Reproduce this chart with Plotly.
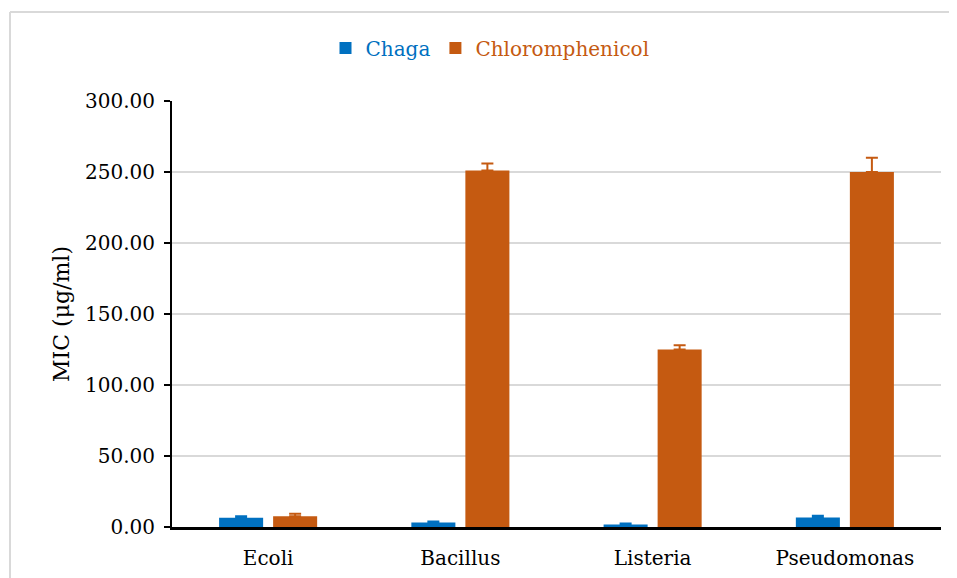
import plotly.graph_objects as go

categories = ["Ecoli", "Bacillus", "Listeria", "Pseudomonas"]
chaga = [6.5, 3.2, 1.8, 6.7]
chaga_err = [1.0, 0.7, 0.6, 1.2]
chloro = [7.5, 251.0, 125.0, 250.0]
chloro_err = [1.8, 5.0, 3.0, 10.0]
y_ticks = [0, 50, 100, 150, 200, 250, 300]
y_tick_labels = ["0.00", "50.00", "100.00", "150.00", "200.00", "250.00", "300.00"]

BLUE = "#0070C0"
ORANGE = "#C55A11"
FONT = "DejaVu Serif"

fig = go.Figure()
fig.add_trace(go.Bar(
    x=categories, y=chaga, name=f'<span style="color:{BLUE}">Chaga</span>',
    marker=dict(color=BLUE, line=dict(width=0)),
    error_y=dict(type="data", symmetric=False, array=chaga_err,
                 arrayminus=[0] * len(chaga_err), color=BLUE, thickness=2, width=6),
))
fig.add_trace(go.Bar(
    x=categories, y=chloro, name=f'<span style="color:{ORANGE}">Chloromphenicol</span>',
    marker=dict(color=ORANGE, line=dict(width=0)),
    error_y=dict(type="data", symmetric=False, array=chloro_err,
                 arrayminus=[0] * len(chloro_err), color=ORANGE, thickness=2, width=6),
))

# page body has an 8px margin; figure is placed at (8, 8)
OFF = 8
L, R, T, B = 172 - OFF, 16, 101 - OFF, 51
W, H = 957 - OFF, 578 - OFF
pw, ph = W - L - R, H - T - B
bx = (10 - OFF - L) / pw
by = 1 + (T - (12 - OFF)) / ph

fig.update_layout(
    width=W, height=H,
    margin=dict(l=L, r=R, t=T, b=B, pad=0, autoexpand=False),
    paper_bgcolor="white", plot_bgcolor="white",
    font=dict(family=FONT, size=20, color="black"),
    barmode="group", bargap=0.438, bargroupgap=0.185,
    showlegend=True,
    legend=dict(orientation="h", xref="container", x=(490 - OFF) / W, xanchor="center",
                yref="container", y=1 - (48 - OFF) / H, yanchor="middle",
                font=dict(family=FONT, size=20), itemwidth=30,
                bgcolor="rgba(0,0,0,0)"),
    xaxis=dict(showline=True, linecolor="black", linewidth=3, ticks="",
               showgrid=False, tickfont=dict(size=20), ticklabelstandoff=11,
               automargin=False),
    yaxis=dict(range=[0, 300], tickvals=y_ticks, ticktext=y_tick_labels,
               showline=True, linecolor="black", linewidth=2,
               ticks="outside", ticklen=6, tickwidth=2, tickcolor="black",
               showgrid=True, gridcolor="#d9d9d9", gridwidth=1.5,
               zeroline=False, tickfont=dict(size=20), ticklabelstandoff=5,
               automargin=False,
               title=dict(text="MIC (μg/ml)", font=dict(size=22), standoff=9)),
    shapes=[
        dict(type="line", xref="paper", yref="paper", x0=bx, x1=bx, y0=-0.2, y1=by,
             line=dict(color="#d9d9d9", width=2)),
        dict(type="line", xref="paper", yref="paper", x0=bx, x1=1.1, y0=by, y1=by,
             line=dict(color="#d9d9d9", width=2)),
    ],
)

fig.write_html("out.html")
